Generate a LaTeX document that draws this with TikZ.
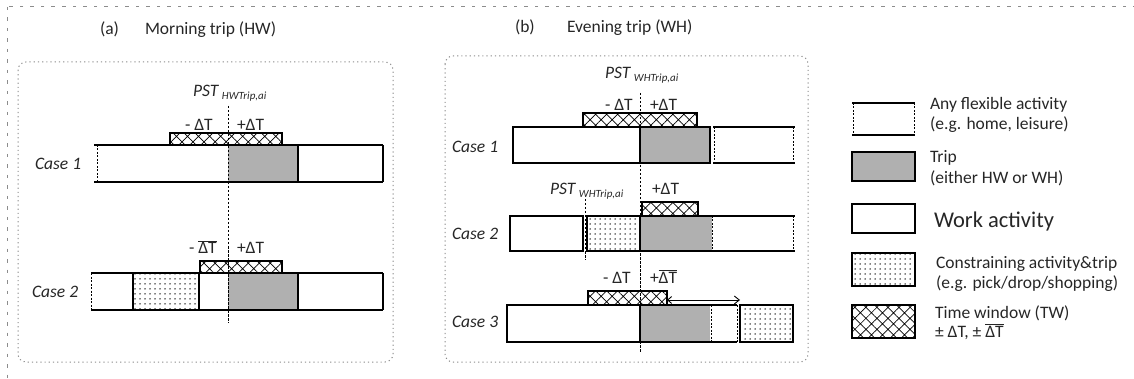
\documentclass[tikz,border=0pt]{standalone}
\usepackage{fontspec}
\setmainfont{Carlito}
\usetikzlibrary{patterns.meta,arrows.meta}
\newcommand{\ovl}[1]{\ensuremath{\overline{\hbox{#1}}}}
\newcommand{\pstlab}[1]{\textit{PST}\,\raisebox{-3pt}{\fontsize{11}{11}\selectfont\textit{#1}}}
\begin{document}
\begin{tikzpicture}[x=1pt,y=-1pt,
  every node/.style={inner sep=0pt,outer sep=0pt,text=black!85,font=\fontsize{17.5}{20}\selectfont},
  edge/.style={line width=1.1pt},
  thk/.style={line width=2.8pt},
  flexend/.style={line width=0.7pt,dash pattern=on 2pt off 1.5pt},
  pstline/.style={line width=0.7pt,dash pattern=on 2.5pt off 1.5pt},
  tripfill/.style={fill=black!31},
  consbox/.style={draw,line width=1.1pt,pattern={Dots[distance=5pt,radius=0.75pt]}},
  twbox/.style={draw,line width=1.1pt,pattern={Hatch[angle=45,distance=7.8pt,line width=0.7pt]}},
  panel/.style={draw=black!45,line width=1pt,dash pattern=on 1.2pt off 3pt,rounded corners=8pt},
  outer/.style={draw=black!45,line width=1pt,dash pattern=on 3.5pt off 7pt},
  lbl/.style={anchor=base west},
  cs/.style={anchor=base west,font=\fontsize{17.5}{20}\selectfont\itshape},
]
\useasboundingbox (0,0) rectangle (1134,379);
\draw[outer] (7,7) rectangle (1150,400);

% ---------- panel (a)
\draw[panel] (18,62) rectangle (393,362);
\node[lbl] (ta) at (100,35) {(a)};
\node[lbl] (tma) at (145,35) {Morning trip (HW)};
\node[lbl] (psta) at (193,97) {\pstlab{HWTrip,ai}};

% case 1
\fill[tripfill] (228,145) rectangle (298,182);
\draw[edge] (94,145) -- (383,145) (94,182) -- (383,182) (383,145) -- (383,182);
\draw[flexend] (97,145) -- (97,182);
\draw[thk] (298,145) -- (298,182);
\draw[twbox] (170,133) rectangle (282,145);
\node[lbl] (ma1) at (185,131) {- ΔT};
\node[lbl] (pa1) at (237,131) {+ΔT};
\node[cs] (ca1) at (35,170) {Case 1};

% case 2
\fill[tripfill] (228,273) rectangle (298,310);
\draw[consbox] (133,273) rectangle (199,310);
\draw[edge] (91,273) -- (383,273) (91,310) -- (383,310) (383,273) -- (383,310);
\draw[flexend] (91,273) -- (91,310);
\draw[thk] (298,273) -- (298,310);
\draw[twbox] (200,261) rectangle (282,273);
\node[lbl] (ma2) at (189,254) {- \ovl{ΔT}};
\node[lbl] (pa2) at (237,254) {+ΔT};
\node[cs] (ca2) at (32,297) {Case 2};

\draw[pstline] (228,106) -- (228,323);

% ---------- panel (b)
\draw[panel] (445,56) rectangle (808,362);
\node[lbl] (tb) at (515,33) {(b)};
\node[lbl] (teb) at (567,33) {Evening trip (WH)};
\node[lbl] (pstb) at (605,79) {\pstlab{WHTrip,ai}};

% case 1
\fill[tripfill] (640,127) rectangle (710,163);
\draw[edge] (513,127) rectangle (710,163);
\draw[thk] (640,127) -- (640,163);
\draw[edge] (713,127) -- (795,127) (713,163) -- (795,163);
\draw[flexend] (714,127) -- (714,163) (793,127) -- (793,163);
\draw[twbox] (583,113) rectangle (697,127);
\node[lbl] (mb1) at (605,111) {- ΔT};
\node[lbl] (pb1) at (650,111) {+ΔT};
\node[cs] (cb1) at (452,153) {Case 1};

% case 2
\fill[tripfill] (640,216) rectangle (712,251);
\draw[edge] (510,216) rectangle (583,251);
\draw[consbox] (587,216) rectangle (640,251);
\draw[edge] (640,216) -- (795,216) (640,251) -- (795,251);
\draw[thk] (640,216) -- (640,251);
\draw[flexend] (712,216) -- (712,251) (793,216) -- (793,251);
\draw[pstline] (585,199) -- (585,260);
\draw[twbox] (642,202) rectangle (698,216);
\node[lbl] (pstb2) at (550,195) {\pstlab{WHTrip,ai}};
\node[lbl] (pb2) at (652,195) {+ΔT};
\node[cs] (cb2) at (452,240) {Case 2};

% case 3
\fill[tripfill] (640,305) rectangle (710,342);
\draw[edge] (507,305) rectangle (640,342);
\draw[edge] (640,305) -- (737,305) (640,342) -- (737,342);
\draw[thk] (640,305) -- (640,342);
\draw[flexend] (711,305) -- (711,342) (737,305) -- (737,342);
\draw[consbox] (740,305) rectangle (793,342);
\draw[twbox] (588,291) rectangle (667,305);
\coordinate (a3) at (667,300);
\coordinate (b3) at (740,300);
\draw[line width=0.9pt,{Straight Barb[length=4pt,width=7pt]}-{Straight Barb[length=5pt,width=8pt]}] (a3) -- (b3);
\node[lbl] (mb3) at (603,283) {- ΔT};
\node[lbl] (pb3) at (650,283) {+\ovl{ΔT}};
\node[cs] (cb3) at (452,327) {Case 3};

\draw[pstline] (640,93) -- (640,353);

% ---------- legend
\draw[edge] (852,103) -- (915,103) (852,135) -- (915,135);
\draw[flexend] (853,103) -- (853,135) (914,103) -- (914,135);
\draw[edge,tripfill] (852,152) rectangle (915,181);
\draw[edge] (852,204) rectangle (915,233);
\draw[consbox] (852,253) rectangle (915,286);
\draw[twbox] (852,305) rectangle (915,338);
\node[lbl] (l1a) at (930,110) {Any flexible activity};
\node[lbl] (l1b) at (930,130) {(e.g. home, leisure)};
\node[lbl] (l2a) at (930,163) {Trip};
\node[lbl] (l2b) at (930,184) {(either HW or WH)};
\node[lbl,font=\fontsize{22.5}{26}\selectfont] (l3) at (934,228) {Work activity};
\node[lbl] (l4a) at (936,268) {Constraining activity\&trip};
\node[lbl] (l4b) at (936,288) {(e.g. pick/drop/shopping)};
\node[lbl] (l5a) at (935,318) {Time window (TW)};
\node[lbl] (l5b) at (935,337) {± ΔT, ± \ovl{ΔT}};
\end{tikzpicture}
\end{document}
